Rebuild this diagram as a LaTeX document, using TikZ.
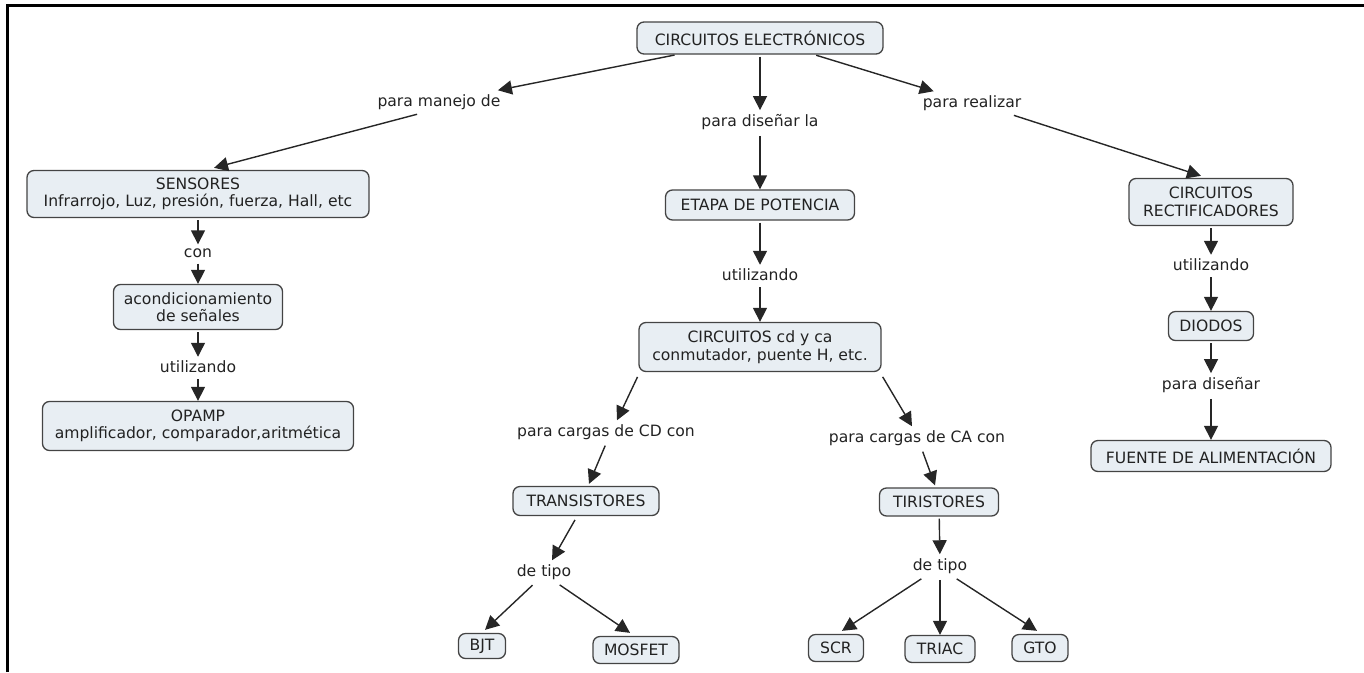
\documentclass[tikz,border=0pt]{standalone}
\usepackage{fontspec}
\setmainfont{DejaVu Sans}
\usetikzlibrary{arrows.meta,calc}
\definecolor{boxfill}{HTML}{E8EEF3}
\definecolor{boxline}{HTML}{444444}
\definecolor{txt}{HTML}{222222}
\begin{document}
\begin{tikzpicture}[x=1pt,y=-1pt, font=\fontsize{15.6}{17.5}\selectfont,
 box/.style={draw=boxline, fill=boxfill, line width=1.3pt, rounded corners=7pt, align=center, inner sep=0pt, text=txt},
 lbl/.style={inner sep=4pt, text=txt},
 conn/.style={draw=black!85, line width=1.4pt, -{Triangle[length=14pt,width=14pt]}, shorten <=2pt}]
\useasboundingbox (0,0) rectangle (1364,672);
\draw[line width=3pt] (7.5,672) -- (7.5,5.5) -- (1364,5.5);

% concept boxes
\node[box, minimum width=246pt, minimum height=32pt] (top) at (760,38) {CIRCUITOS ELECTRÓNICOS};
\node[box, minimum width=342pt, minimum height=47pt] (sens) at (198,194) {SENSORES\\Infrarrojo, Luz, presión, fuerza, Hall, etc};
\node[box, minimum width=189pt, minimum height=30pt] (etapa) at (760,205) {ETAPA DE POTENCIA};
\node[box, minimum width=164pt, minimum height=47pt] (rect) at (1211,202) {CIRCUITOS\\RECTIFICADORES};
\node[box, minimum width=169pt, minimum height=45pt] (acond) at (198,307) {acondicionamiento\\de señales};
\node[box, minimum width=311pt, minimum height=49pt] (opamp) at (198,426) {OPAMP\\amplificador, comparador,aritmética};
\node[box, minimum width=242pt, minimum height=49pt] (ccd) at (760,347) {CIRCUITOS cd y ca\\conmutador, puente H, etc.};
\node[box, minimum width=85pt, minimum height=29pt] (diodos) at (1211,326) {DIODOS};
\node[box, minimum width=240pt, minimum height=31pt] (fuente) at (1211,456) {FUENTE DE ALIMENTACIÓN};
\node[box, minimum width=146pt, minimum height=29pt] (trans) at (586,501) {TRANSISTORES};
\node[box, minimum width=119pt, minimum height=28pt] (tiris) at (939,502) {TIRISTORES};
\node[box, minimum width=47pt, minimum height=25pt] (bjt) at (482,646) {BJT};
\node[box, minimum width=86pt, minimum height=27pt] (mosfet) at (636,650) {MOSFET};
\node[box, minimum width=55pt, minimum height=27pt] (scr) at (836,648) {SCR};
\node[box, minimum width=70pt, minimum height=27pt] (triac) at (940,649) {TRIAC};
\node[box, minimum width=56pt, minimum height=27pt] (gto) at (1040,648) {GTO};

% linking phrases
\node[lbl] (pm) at (439,102) {para manejo de};
\node[lbl] (pdl) at (760,122) {para diseñar la};
\node[lbl] (pr) at (972,103) {para realizar};
\node[lbl] (con) at (198,253) {con};
\node[lbl] (ut1) at (198,367) {utilizando};
\node[lbl] (ut2) at (760,275) {utilizando};
\node[lbl] (ut3) at (1211,265) {utilizando};
\node[lbl] (pd) at (1211,385) {para diseñar};
\node[lbl] (cd) at (606,432) {para cargas de CD con};
\node[lbl] (ca) at (917,438) {para cargas de CA con};
\node[lbl] (dt1) at (544,572) {de tipo};
\node[lbl] (dt2) at (940,566) {de tipo};

% connectors
\draw[conn] (top) -- (pm);
\draw[conn] (top) -- (pdl);
\draw[conn] (top) -- (pr);
\draw[conn] ($(pm.south)+(-20,0)$) -- ($(sens.north)+(16,-2)$);
\draw[conn] (pdl) -- (etapa);
\draw[conn] ($(pr.south)+(40,0)$) -- ($(rect.north)+(-10,-2)$);
\draw[conn] (sens) -- (con);
\draw[conn] (con) -- (acond);
\draw[conn] (acond) -- (ut1);
\draw[conn] (ut1) -- (opamp);
\draw[conn] (etapa) -- (ut2);
\draw[conn] (ut2) -- (ccd);
\draw[conn] (rect) -- (ut3);
\draw[conn] (ut3) -- (diodos);
\draw[conn] (diodos) -- (pd);
\draw[conn] (pd) -- (fuente);
\draw[conn] ($(ccd.south west)+(0,3)$) -- ($(cd.north)+(11,0)$);
\draw[conn] ($(ccd.south east)+(0,3)$) -- ($(ca.north)+(-5,0)$);
\draw[conn] (cd.south) -- ($(trans.north)+(3,-2)$);
\draw[conn] ($(ca.south)+(5,0)$) -- ($(tiris.north)+(-4,-2)$);
\draw[conn] ($(trans.south)+(-10,2)$) -- ($(dt1.north)+(8,0)$);
\draw[conn] (tiris) -- (dt2);
\draw[conn] ($(dt1.south)+(-10,0)$) -- ($(bjt.north)+(3,-3)$);
\draw[conn] ($(dt1.south)+(14,0)$) -- ($(mosfet.north)+(-6,-3)$);
\draw[conn] ($(dt2.south)+(-17,0)$) -- ($(scr.north)+(6,-3)$);
\draw[conn] (dt2) -- (triac);
\draw[conn] ($(dt2.south)+(15,0)$) -- ($(gto.north)+(-3,-3)$);
\end{tikzpicture}
\end{document}
